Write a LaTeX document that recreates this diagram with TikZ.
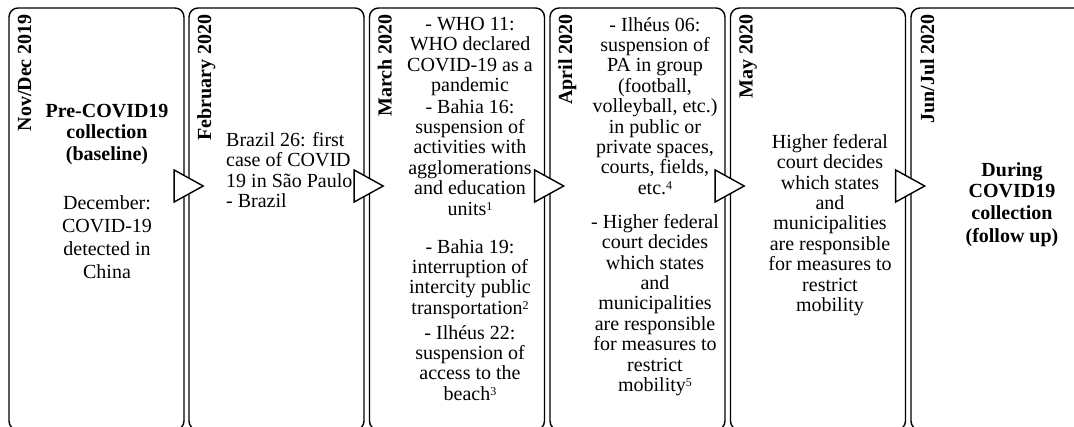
\documentclass[tikz,border=0pt]{standalone}
\usepackage{fontspec}
\setmainfont{Liberation Serif}
\usetikzlibrary{shapes.geometric,calc}

% small raised footnote numbers that stay within the line's cap height
\newcommand\fnmark[1]{\raisebox{5pt}{\fontsize{12}{12}\selectfont #1}}

\begin{document}
\begin{tikzpicture}[x=1pt,y=-1pt,
  period/.style={draw, line width=1.4pt, rounded corners=9pt,
    minimum width=175pt, minimum height=422pt, anchor=north west,
    inner sep=0pt, outer sep=0pt},
  month/.style={rotate=90, anchor=base east, inner sep=0pt,
    font=\fontsize{20}{20}\selectfont\bfseries},
  body/.style={align=center, inner sep=0pt, anchor=north,
    font=\fontsize{20}{20.4}\selectfont},
  loose/.style={body, font=\fontsize{20}{23}\selectfont},
  headline/.style={body, font=\fontsize{20}{21.5}\selectfont\bfseries},
  marker/.style={isosceles triangle, isosceles triangle stretches,
    draw, fill=white, line width=1.4pt, minimum width=32pt,
    minimum height=29pt, inner sep=0pt, anchor=apex}]
\useasboundingbox (0,0) rectangle (1074,427);

% period columns
\node[period] (b1) at (9,8) {};
\node[period] (b2) at (189,8) {};
\node[period] (b3) at (369.5,8) {};
\node[period] (b4) at (550,8) {};
\node[period] (b5) at (730.5,8) {};
\node[period] (b6) at (911,8) {};

% rotated month labels
\node[month] (m1) at ($(b1.north west)+(22,6)$) {Nov/Dec 2019};
\node[month] (m2) at ($(b2.north west)+(22,6)$) {February 2020};
\node[month] (m3) at ($(b3.north west)+(22,6)$) {March 2020};
\node[month] (m4) at ($(b4.north west)+(22,6)$) {April 2020};
\node[month] (m5) at ($(b5.north west)+(22,6)$) {May 2020};
\node[month] (m6) at ($(b6.north west)+(23,6)$) {Jun/Jul 2020};

% column contents
\node[headline] (t1a) at (107,104) {Pre-COVID19\\collection\\(baseline)};
\node[loose] (t1b) at (107,195) {December:\\COVID-19\\detected in\\China};

\node[body, align=left, anchor=north west] (t2) at (226,132)
  {Brazil 26: first\\case of COVID\\19 in São Paulo\\- Brazil};

\node[body] (t3a) at (470,17) {- WHO 11:\\WHO declared\\COVID-19 as a\\pandemic};
\node[body] (t3b) at (470,99) {- Bahia 16:\\suspension of\\activities with\\agglomerations\\and education\\units\fnmark{1}};
\node[body] (t3c) at (470,239) {- Bahia 19:\\interruption of\\intercity public\\transportation\fnmark{2}};
\node[body] (t3d) at (470,325) {- Ilhéus 22:\\suspension of\\access to the\\beach\fnmark{3}};

\node[body] (t4a) at (655,17) {- Ilhéus 06:\\suspension of\\PA in group\\(football,\\volleyball, etc.)\\in public or\\private spaces,\\courts, fields,\\etc.\fnmark{4}};
\node[body] (t4b) at (655,214) {- Higher federal\\court decides\\which states\\and\\municipalities\\are responsible\\for measures to\\restrict\\mobility\fnmark{5}};

\node[body] (t5) at (830,134) {Higher federal\\court decides\\which states\\and\\municipalities\\are responsible\\for measures to\\restrict\\mobility};

\node[headline] (t6) at (1012,162) {During\\COVID19\\collection\\[2pt](follow up)};

% arrowheads between consecutive periods
\node[marker] (a1) at ($(b1.north east)+(21,178)$) {};
\node[marker] (a2) at ($(b2.north east)+(21,178)$) {};
\node[marker] (a3) at ($(b3.north east)+(21,178)$) {};
\node[marker] (a4) at ($(b4.north east)+(21,178)$) {};
\node[marker] (a5) at ($(b5.north east)+(21,178)$) {};
\end{tikzpicture}
\end{document}
